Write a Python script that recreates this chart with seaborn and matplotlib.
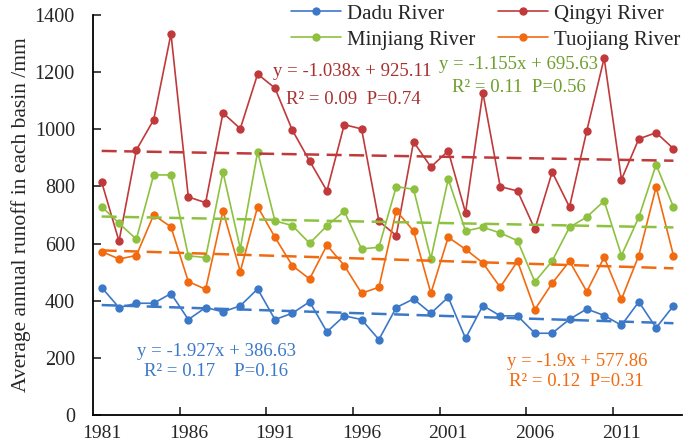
import numpy as np
import pandas as pd
import seaborn as sns
import matplotlib.pyplot as plt

years = list(range(1981, 2015))

dadu = [446, 376, 391, 391, 425, 334, 376, 361, 382, 441,
        334, 356, 396, 291, 347, 334, 264, 376, 406, 356,
        412, 268, 383, 347, 347, 286, 286, 335, 371, 348,
        314, 396, 305, 382]
qingyi = [815, 608, 927, 1033, 1334, 763, 743, 1057, 1002, 1193,
          1144, 997, 889, 784, 1016, 1001, 678, 628, 956, 868,
          924, 708, 1128, 799, 784, 650, 850, 728, 995, 1249,
          824, 966, 988, 932]
minjiang = [729, 671, 615, 840, 840, 557, 551, 850, 582, 921,
            679, 663, 601, 662, 713, 581, 587, 799, 790, 547,
            826, 644, 657, 637, 610, 466, 539, 657, 693, 749,
            558, 692, 876, 728]
tuojiang = [572, 546, 558, 700, 658, 467, 440, 714, 502, 729,
            622, 523, 476, 594, 523, 426, 447, 715, 644, 426,
            622, 580, 532, 447, 538, 369, 461, 538, 432, 552,
            405, 558, 798, 558]

names = ["Dadu River", "Qingyi River", "Minjiang River", "Tuojiang River"]
series = [dadu, qingyi, minjiang, tuojiang]
colors = ["#3C78C8", "#C0393B", "#8DC13F", "#F26A10"]
text_colors = ["#3C78C8", "#A8302F", "#6E9E2C", "#F26A10"]

# trend line coefficients (x = 1..34)
slopes = [-1.927, -1.038, -1.155, -1.9]
intercepts = [386.63, 925.11, 695.63, 577.86]
eq_text = ["y = -1.927x + 386.63", "y = -1.038x + 925.11",
           "y = -1.155x + 695.63", "y = -1.9x + 577.86"]
stat_text = ["R² = 0.17    P=0.16", "R² = 0.09  P=0.74",
             "R² = 0.11  P=0.56", "R² = 0.12  P=0.31"]
eq_pos = [(0.209, 0.1575), (0.440, 0.8575), (0.723, 0.875), (0.822, 0.1325)]
stat_pos = [(0.209, 0.1075), (0.441, 0.7875), (0.723, 0.8175), (0.820, 0.0825)]

sns.set_style("ticks")
plt.rcParams['font.family'] = ['Liberation Serif', 'DejaVu Serif']

fig = plt.figure(figsize=(6.85, 4.48), dpi=100)
ax = fig.add_axes([0.1358, 0.0737, 0.860, 0.893])

df = pd.DataFrame({"year": years})
lines = {}
for name, vals, c in zip(names, series, colors):
    df[name] = vals
    sns.lineplot(x="year", y=name, data=df, ax=ax, color=c, marker="o",
                 markersize=6, markeredgewidth=0, linewidth=1.2, label=name)
    lines[name] = ax.lines[-1]

xs = np.arange(1, len(years) + 1)
for a, b, c in zip(slopes, intercepts, colors):
    ax.plot(years, a * xs + b, color=c, linestyle=(0, (6, 3)), linewidth=1.8)

for i in range(4):
    ax.text(*eq_pos[i], eq_text[i], transform=ax.transAxes, ha="center",
            va="center", fontsize=13.5, color=text_colors[i])
    ax.text(*stat_pos[i], stat_text[i], transform=ax.transAxes, ha="center",
            va="center", fontsize=13.5, color=text_colors[i])

ax.set_xlim(1980.5, 2014.5)
ax.set_ylim(0, 1400)
ax.set_xticks(range(1981, 2015, 5))
ax.set_xticks(np.arange(1985.5, 2014, 5), minor=True)
ax.set_yticks(range(0, 1401, 200))
ax.tick_params(axis="x", which="major", length=0, pad=7, labelsize=14)
ax.tick_params(axis="x", which="minor", direction="in", length=6, width=1.2)
ax.tick_params(axis="y", direction="in", length=6, width=1.2, pad=13, labelsize=14.5)
ax.set_xlabel("")
ax.set_ylabel("Average annual runoff in each basin /mm", fontsize=15.5, labelpad=3)
for s in ["top", "right"]:
    ax.spines[s].set_visible(False)
for s in ["left", "bottom"]:
    ax.spines[s].set_linewidth(1.3)
    ax.spines[s].set_color("black")

order = ["Dadu River", "Minjiang River", "Qingyi River", "Tuojiang River"]
ax.legend([lines[n] for n in order], order,
          loc="upper right", bbox_to_anchor=(1.0, 1.0), bbox_transform=fig.transFigure,
          ncol=2, frameon=False, fontsize=15, handlelength=2.4, handletextpad=0.3,
          columnspacing=1.1, labelspacing=0.3, borderaxespad=0.1, borderpad=0.1)

fig.savefig("out.png", dpi=100)
